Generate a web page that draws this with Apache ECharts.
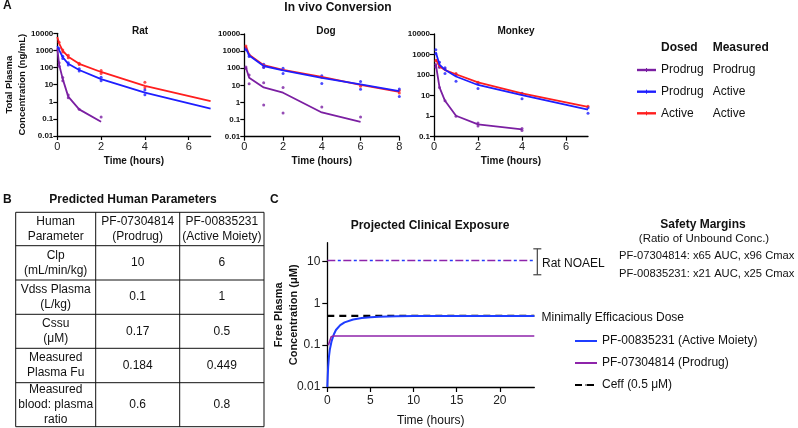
<!DOCTYPE html>
<html>
<head>
<meta charset="utf-8">
<style>
html, body { margin: 0; padding: 0; background: #fff; }
#main { width: 798px; height: 428px; }
</style>
<script src="https://cdn.jsdelivr.net/npm/echarts@6/dist/echarts.min.js"></script>
</head>
<body>
<div id="main"></div>
<script>
"use strict";

// ______________ DATA : panel A (hours, ng/mL)
var ratTime = [0, 0.083, 0.25, 0.5, 1, 2, 4, 7];
var ratActive = [6000, 2600, 950, 430, 165, 55, 8.5, 1.1];
var ratProdrugActive = [1800, 1050, 400, 165, 72, 21, 3.4, 0.4];
var ratProdTime = [0, 0.083, 0.25, 0.5, 1, 2];
var ratProdrug = [1300, 150, 21, 2.0, 0.36, 0.068];
var ratActiveDots = [[0.083, 3000], [0.25, 1050], [0.25, 800], [0.5, 520], [0.5, 370], [1, 180], [1, 150], [2, 68], [2, 45], [4, 14], [4, 6.5]];
var ratProdrugActiveDots = [[0.083, 1300], [0.25, 450], [0.25, 340], [0.5, 190], [0.5, 140], [1, 85], [1, 62], [2, 27], [2, 17], [4, 4.8], [4, 2.6]];
var ratProdrugDots = [[0.083, 190], [0.083, 120], [0.25, 26], [0.25, 17], [0.5, 2.5], [0.5, 1.7], [1, 0.36], [2, 0.13]];

var dogTime = [0.083, 0.25, 1, 2, 4, 6, 8];
var dogActive = [1900, 620, 150, 80, 31, 10.5, 4.2];
var dogProdrugActive = [1400, 560, 135, 75, 27, 11.5, 4.6];
var dogProdTime = [0.083, 0.25, 1, 2, 4, 6];
var dogProdrug = [110, 28, 7.6, 3.7, 0.26, 0.074];
var dogActiveDots = [[0.083, 2000], [1, 120], [4, 30], [6, 9], [8, 5], [8, 3.6]];
var dogProdrugActiveDots = [[0.083, 1500], [0.083, 1200], [0.25, 620], [0.25, 480], [1, 170], [1, 110], [2, 100], [2, 50], [4, 36], [4, 13], [6, 17], [6, 6], [8, 6.2], [8, 2.2]];
var dogProdrugDots = [[0.083, 120], [0.083, 95], [0.25, 40], [0.25, 12.5], [1, 14], [1, 0.7], [2, 7.6], [2, 0.24], [4, 0.54], [6, 0.14]];

var monkeyTime = [0.083, 0.25, 0.5, 1, 2, 4, 7];
var monkeyActive = [600, 260, 175, 110, 44, 13, 2.8];
var monkeyProdrugActive = [1300, 320, 180, 85, 33, 10.5, 2.1];
var monkeyProdTime = [0.083, 0.25, 0.5, 1, 2, 4];
var monkeyProdrug = [330, 25, 5.6, 1.05, 0.4, 0.23];
var monkeyActiveDots = [[0.083, 500], [0.25, 240], [0.5, 200], [1, 120], [2, 45], [4, 12], [7, 3]];
var monkeyProdrugActiveDots = [[0.083, 1700], [0.083, 1100], [0.25, 420], [0.25, 250], [0.5, 230], [0.5, 120], [1, 105], [1, 50], [2, 40], [2, 22], [4, 13], [4, 7], [7, 2.6], [7, 1.4]];
var monkeyProdrugDots = [[0.083, 330], [0.083, 250], [0.25, 25], [0.5, 5.6], [1, 1.0], [2, 0.47], [2, 0.33], [4, 0.25], [4, 0.2]];

var concTicks = [0.01, 0.1, 1, 10, 100, 1000, 10000];
var monkeyConcTicks = [0.1, 1, 10, 100, 1000, 10000];

// ______________ DATA : panel B
var tableHeader = ['Human\nParameter', 'PF-07304814\n(Prodrug)', 'PF-00835231\n(Active Moiety)'];
var paramNames = ['Clp\n(mL/min/kg)', 'Vdss Plasma\n(L/kg)', 'Cssu\n(\u03bcM)', 'Measured\nPlasma Fu', 'Measured\nblood: plasma\nratio'];
var prodrugParams = ['10', '0.1', '0.17', '0.184', '0.6'];
var activeParams = ['6', '1', '0.5', '0.449', '0.8'];

// ______________ DATA : panel C (hours, uM)
var activeTime = [0, 0.05, 0.1, 0.2, 0.3, 0.5, 0.75, 1, 1.5, 2, 3, 4, 5, 6, 8, 10, 12, 16, 20, 24];
var activeFree = [0.01, 0.018, 0.03, 0.055, 0.08, 0.125, 0.18, 0.23, 0.3, 0.35, 0.41, 0.445, 0.465, 0.478, 0.49, 0.495, 0.498, 0.5, 0.5, 0.5];
var prodrugTime = [0.12, 0.3, 0.45, 0.7, 24];
var prodrugFree = [0.1, 0.11, 0.158, 0.165, 0.165];
var ceffTime = [0, 24];
var ceffValue = [0.5, 0.5];
var noaelTime = [0, 24];
var noaelValue = [10.5, 10.5];
var noaelRange = [24.35, 4.8, 20];   // x, low, high
var clinicalTicks = [0.01, 0.1, 1, 10];

var FONT = 'Liberation Sans, Arial, sans-serif';
var RED = '#ff1e1e', BLUE = '#1e1eff', PURPLE = '#7b1fa2';
var C_BLUE = '#1f3dff', C_PURPLE = '#8e24aa';

function pairs(t, v) {
	return t.map(function(x, i) { return [x, v[i]]; });
}

function fmt(v) {
	return String(Number(Number(v).toPrecision(6)));
}

var axisLine = { lineStyle: { color: '#000', width: 1.3 } };

function speciesX(idx, max, ticks) {
	return {
		type: 'value', gridIndex: idx, min: 0, max: max, interval: 2,
		name: 'Time (hours)', nameLocation: 'middle', nameGap: 20, nameMoveOverlap: false,
		nameTextStyle: { fontWeight: 'bold', fontSize: 10, color: '#111' },
		axisLine: axisLine,
		axisTick: { length: 4, lineStyle: { color: '#000', width: 1.2 }, customValues: ticks },
		axisLabel: { fontSize: 11, color: '#222', margin: 5, customValues: ticks },
		splitLine: { show: false }
	};
}

function speciesY(idx, min, ticks, withName) {
	return {
		type: 'log', logBase: 10, gridIndex: idx, min: min, max: 10000,
		name: withName ? 'Total Plasma\nConcentration (ng/mL)' : '',
		nameLocation: 'middle', nameGap: 28, nameMoveOverlap: false,
		nameTextStyle: { fontWeight: 'bold', fontSize: 9.5, lineHeight: 13, color: '#111' },
		axisLine: axisLine,
		axisTick: { length: 4, lineStyle: { color: '#000', width: 1.2 }, customValues: ticks },
		axisLabel: { fontSize: 8, fontWeight: 'bold', color: '#111', margin: 4, customValues: ticks, formatter: fmt },
		splitLine: { show: false },
		minorTick: { show: false }
	};
}

function speciesSeries(idx, tag, t, red, blue, pt, purple, redDots, blueDots, purpleDots) {
	function ln(name, data, color) {
		return { name: tag + ' ' + name, type: 'line', xAxisIndex: idx, yAxisIndex: idx, data: data,
			symbol: 'none', lineStyle: { color: color, width: 1.8 }, itemStyle: { color: color } };
	}
	function dots(name, data, color) {
		return { name: tag + ' ' + name + ' pts', type: 'scatter', xAxisIndex: idx, yAxisIndex: idx, data: data,
			symbolSize: 3, itemStyle: { color: color } };
	}
	return [
		ln('active', pairs(t, red), RED),
		ln('prodrug-active', pairs(t, blue), BLUE),
		ln('prodrug', pairs(pt, purple), PURPLE),
		dots('active', redDots, RED),
		dots('prodrug-active', blueDots, BLUE),
		dots('prodrug', purpleDots, PURPLE)
	];
}

// ______________ TABLE (panel B)
var colX = [15.7, 95.7, 179.7, 264];
var rowY = [212.3, 245.7, 280, 314.3, 348.3, 382.7, 426.7];

function cellText(text, c, r) {
	return {
		type: 'text',
		x: (colX[c] + colX[c + 1]) / 2,
		y: (rowY[r] + rowY[r + 1]) / 2,
		style: { text: text, font: '12px ' + FONT, fill: '#111', align: 'center', verticalAlign: 'middle',
			textAlign: 'center', textVerticalAlign: 'middle', lineHeight: 14.8 }
	};
}

function txt(text, x, y, opts) {
	opts = opts || {};
	return {
		type: 'text', x: x, y: y,
		style: {
			text: text,
			font: (opts.bold ? 'bold ' : '') + (opts.size || 12) + 'px ' + FONT,
			fill: '#111',
			align: opts.align || 'left', textAlign: opts.align || 'left',
			verticalAlign: 'middle', textVerticalAlign: 'middle'
		}
	};
}

var graphics = [];
graphics.push({ type: 'rect', shape: { x: colX[0], y: rowY[0], width: colX[3] - colX[0], height: rowY[6] - rowY[0] },
	style: { fill: 'none', stroke: '#111', lineWidth: 1 } });
[1, 2].forEach(function(c) {
	graphics.push({ type: 'line', shape: { x1: colX[c], y1: rowY[0], x2: colX[c], y2: rowY[6] }, style: { stroke: '#111', lineWidth: 1 } });
});
[1, 2, 3, 4, 5].forEach(function(r) {
	graphics.push({ type: 'line', shape: { x1: colX[0], y1: rowY[r], x2: colX[3], y2: rowY[r] }, style: { stroke: '#111', lineWidth: 1 } });
});
tableHeader.forEach(function(h, c) { graphics.push(cellText(h, c, 0)); });
paramNames.forEach(function(p, r) {
	graphics.push(cellText(p, 0, r + 1));
	graphics.push(cellText(prodrugParams[r], 1, r + 1));
	graphics.push(cellText(activeParams[r], 2, r + 1));
});

// panel letters and headings
graphics.push(txt('A', 3, 6, { bold: true }));
graphics.push(txt('B', 3, 200, { bold: true }));
graphics.push(txt('C', 270, 200, { bold: true }));
graphics.push(txt('In vivo Conversion', 338, 8, { bold: true, align: 'center' }));
graphics.push(txt('Predicted Human Parameters', 133, 200, { bold: true, align: 'center' }));

// legend of panel A
graphics.push(txt('Dosed', 661, 48, { bold: true }));
graphics.push(txt('Measured', 712.7, 48, { bold: true }));
[['Prodrug', 'Prodrug', PURPLE, 70], ['Prodrug', 'Active', BLUE, 91.7], ['Active', 'Active', RED, 113.3]].forEach(function(row) {
	graphics.push({ type: 'line', shape: { x1: 637, y1: row[3], x2: 656, y2: row[3] }, style: { stroke: row[2], lineWidth: 2.4 } });
	graphics.push({ type: 'line', shape: { x1: 646.5, y1: row[3] - 2, x2: 646.5, y2: row[3] + 2 }, style: { stroke: row[2], lineWidth: 1 } });
	graphics.push(txt(row[0], 661, row[3]));
	graphics.push(txt(row[1], 712.7, row[3]));
});

// annotations of panel C
graphics.push(txt('Rat NOAEL', 542, 264));
graphics.push(txt('Minimally Efficacious Dose', 541.5, 318));
graphics.push(txt('Safety Margins', 703, 225, { bold: true, align: 'center' }));
graphics.push(txt('(Ratio of Unbound Conc.)', 704, 238.5, { align: 'center', size: 11.5 }));
graphics.push(txt('PF-07304814: x65 AUC, x96 Cmax', 619, 256, { size: 11.2 }));
graphics.push(txt('PF-00835231: x21 AUC, x25 Cmax', 619, 273.5, { size: 11.2 }));

var chart = echarts.init(document.getElementById('main'), null, { renderer: 'canvas' });

var option = {
	animation: false,
	backgroundColor: '#fff',
	textStyle: { fontFamily: FONT },
	title: [
		{ text: 'Rat', left: 135, top: 21, textAlign: 'center', textStyle: { fontSize: 10, fontWeight: 'bold', color: '#111' } },
		{ text: 'Dog', left: 321, top: 21, textAlign: 'center', textStyle: { fontSize: 10, fontWeight: 'bold', color: '#111' } },
		{ text: 'Monkey', left: 511, top: 21, textAlign: 'center', textStyle: { fontSize: 10, fontWeight: 'bold', color: '#111' } },
		{ text: 'Projected Clinical Exposure', left: 425, top: 215, textAlign: 'center', textStyle: { fontSize: 12, fontWeight: 'bold', color: '#111' } }
	],
	grid: [
		{ left: 57.3, top: 33.3, width: 153.3, height: 102.7 },
		{ left: 244.3, top: 34, width: 155, height: 102.7 },
		{ left: 434, top: 34, width: 154, height: 102.7 },
		{ left: 327.3, top: 242.7, width: 207, height: 144.6 }
	],
	xAxis: [
		speciesX(0, 7, [0, 2, 4, 6]),
		speciesX(1, 8, [0, 2, 4, 6, 8]),
		speciesX(2, 7, [0, 2, 4, 6]),
		{
			type: 'value', gridIndex: 3, min: 0, max: 24, interval: 5,
			name: 'Time (hours)', nameLocation: 'middle', nameGap: 28, nameMoveOverlap: false,
			nameTextStyle: { fontSize: 12, color: '#111' },
			axisLine: axisLine,
			axisTick: { length: 5, lineStyle: { color: '#000', width: 1.2 }, customValues: [0, 5, 10, 15, 20] },
			axisLabel: { fontSize: 12, color: '#222', margin: 8, customValues: [0, 5, 10, 15, 20] },
			splitLine: { show: false }
		}
	],
	yAxis: [
		speciesY(0, 0.01, concTicks, true),
		speciesY(1, 0.01, concTicks, false),
		speciesY(2, 0.1, monkeyConcTicks, false),
		{
			type: 'log', logBase: 10, gridIndex: 3, min: 0.01, max: 28,
			name: 'Free Plasma\nConcentration (\u03bcM)', nameLocation: 'middle', nameGap: 26, nameMoveOverlap: false,
			nameTextStyle: { fontWeight: 'bold', fontSize: 11, lineHeight: 15, color: '#111' },
			axisLine: axisLine,
			axisTick: { length: 5, lineStyle: { color: '#000', width: 1.2 }, customValues: clinicalTicks },
			axisLabel: { fontSize: 12, color: '#222', margin: 7, customValues: clinicalTicks, formatter: fmt },
			splitLine: { show: false },
			minorTick: { show: false }
		}
	],
	legend: {
		orient: 'vertical', left: 569, top: 330, itemWidth: 22, itemHeight: 2, itemGap: 10,
		data: ['PF-00835231 (Active Moiety)', 'PF-07304814 (Prodrug)', 'Ceff (0.5 \u03bcM)'],
		textStyle: { fontSize: 12, color: '#111' }
	},
	graphic: graphics,
	series: [].concat(
		speciesSeries(0, 'Rat', ratTime, ratActive, ratProdrugActive, ratProdTime, ratProdrug, ratActiveDots, ratProdrugActiveDots, ratProdrugDots),
		speciesSeries(1, 'Dog', dogTime, dogActive, dogProdrugActive, dogProdTime, dogProdrug, dogActiveDots, dogProdrugActiveDots, dogProdrugDots),
		speciesSeries(2, 'Monkey', monkeyTime, monkeyActive, monkeyProdrugActive, monkeyProdTime, monkeyProdrug, monkeyActiveDots, monkeyProdrugActiveDots, monkeyProdrugDots),
		[
			{ name: 'NOAEL prodrug', type: 'line', xAxisIndex: 3, yAxisIndex: 3, data: pairs(noaelTime, noaelValue), symbol: 'none',
				lineStyle: { color: C_PURPLE, width: 1.5, type: [8, 8] } },
			{ name: 'NOAEL active', type: 'line', xAxisIndex: 3, yAxisIndex: 3, data: pairs(noaelTime, noaelValue), symbol: 'none',
				lineStyle: { color: C_BLUE, width: 1.5, type: [3, 13], dashOffset: 5.5 } },
			{ name: 'Ceff (0.5 \u03bcM)', type: 'line', xAxisIndex: 3, yAxisIndex: 3, data: pairs(ceffTime, ceffValue), symbol: 'none',
				lineStyle: { color: '#000', width: 2.2, type: [7, 5] }, itemStyle: { color: '#000' } },
			{ name: 'PF-00835231 (Active Moiety)', type: 'line', xAxisIndex: 3, yAxisIndex: 3, data: pairs(activeTime, activeFree), symbol: 'none',
				lineStyle: { color: C_BLUE, width: 2 }, itemStyle: { color: C_BLUE } },
			{ name: 'PF-07304814 (Prodrug)', type: 'line', xAxisIndex: 3, yAxisIndex: 3, data: pairs(prodrugTime, prodrugFree), symbol: 'none',
				lineStyle: { color: C_PURPLE, width: 1.6 }, itemStyle: { color: C_PURPLE } },
			{
				name: 'Rat NOAEL range', type: 'custom', xAxisIndex: 3, yAxisIndex: 3, clip: false,
				data: [noaelRange],
				encode: { x: 0, y: [1, 2] },
				renderItem: function(params, api) {
					var lo = api.coord([api.value(0), api.value(1)]);
					var hi = api.coord([api.value(0), api.value(2)]);
					var st = { stroke: '#444', lineWidth: 1.2 };
					return { type: 'group', children: [
						{ type: 'line', shape: { x1: lo[0], y1: lo[1], x2: hi[0], y2: hi[1] }, style: st },
						{ type: 'line', shape: { x1: lo[0] - 4, y1: lo[1], x2: lo[0] + 4, y2: lo[1] }, style: st },
						{ type: 'line', shape: { x1: hi[0] - 4, y1: hi[1], x2: hi[0] + 4, y2: hi[1] }, style: st }
					] };
				}
			}
		]
	)
};

chart.setOption(option);
</script>
</body>
</html>
